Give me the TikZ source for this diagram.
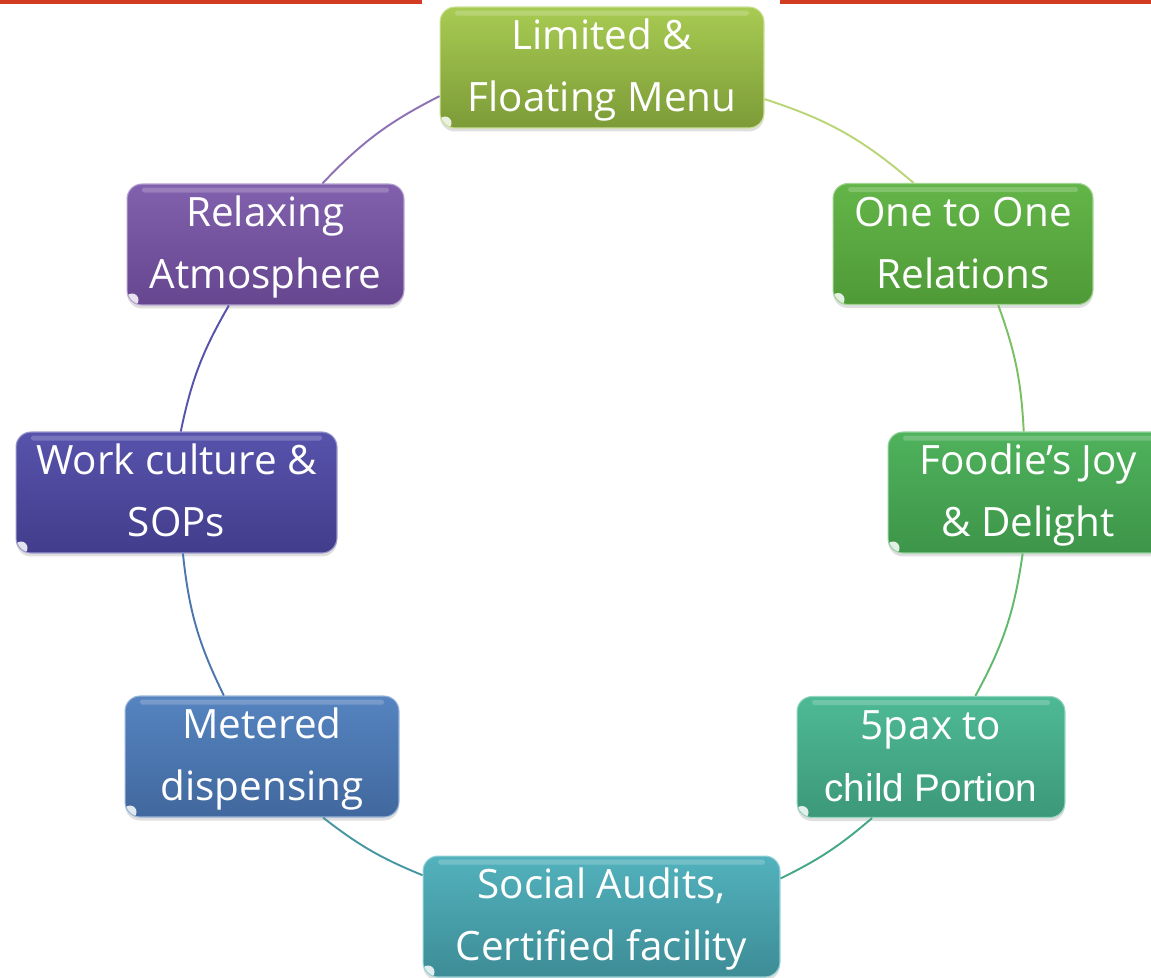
\documentclass[tikz,border=0pt]{standalone}
\usepackage{fontspec}
\setmainfont{Open Sans}
\newfontfamily\arialfont{Liberation Sans}
\usetikzlibrary{shadows}
\definecolor{limTop}{HTML}{A8CB52}
\definecolor{limBot}{HTML}{7C9B38}
\definecolor{oneTop}{HTML}{63B548}
\definecolor{oneBot}{HTML}{4F9A38}
\definecolor{foodTop}{HTML}{4FB25C}
\definecolor{foodBot}{HTML}{3D9549}
\definecolor{paxTop}{HTML}{4EB995}
\definecolor{paxBot}{HTML}{3C9879}
\definecolor{socTop}{HTML}{52B2BD}
\definecolor{socBot}{HTML}{3D8C96}
\definecolor{metTop}{HTML}{5584C0}
\definecolor{metBot}{HTML}{41689E}
\definecolor{workTop}{HTML}{5753AC}
\definecolor{workBot}{HTML}{423D8B}
\definecolor{relaxTop}{HTML}{8160AD}
\definecolor{relaxBot}{HTML}{66468F}
\definecolor{barRed}{HTML}{D23C22}
\newcommand{\hiline}{\rule{0pt}{21pt}}
\newcommand{\loline}{\rule[-6pt]{0pt}{6pt}}
\begin{document}
\begin{tikzpicture}[x=0.02cm, y=-0.02cm, font=\fontsize{23}{35.2}\selectfont,
    box/.style 2 args={rectangle, rounded corners=0.3cm, top color=#1, bottom color=#2,
      draw=#1!60!white, line width=0.6pt, text=white, align=center, inner sep=0pt,
      minimum height=2.42cm,
      drop shadow={opacity=0.25, shadow xshift=0pt, shadow yshift=-0.07cm},
      path picture={
        \fill[white, opacity=0.2, rounded corners=1pt] ([xshift=0.3cm, yshift=-0.07cm]path picture bounding box.north west)
          rectangle ([xshift=-0.3cm, yshift=-0.17cm]path picture bounding box.north east);
        \fill[white, opacity=0.85] ([xshift=0.1cm, yshift=0.1cm]path picture bounding box.south west) circle (0.13cm);}},
    link/.style={line width=1.1pt}]
    \useasboundingbox (0,0) rectangle (1151,977);
    % Top bar
    \fill[barRed] (0,0) rectangle (422,4);
    \fill[barRed] (780,0) rectangle (1151,4);
    % Nodes
    \node[box={limTop}{limBot}, minimum width=6.48cm] (lim) at (602,67.5) {\hiline Limited \&\\Floating Menu\loline};
    \node[box={oneTop}{oneBot}, minimum width=5.2cm] (one) at (963,244) {\hiline One to One\\Relations\loline};
    \node[box={foodTop}{foodBot}, minimum width=5.6cm] (food) at (1028,492.5) {\hiline Foodie’s Joy\\\& Delight\loline};
    \node[box={paxTop}{paxBot}, minimum width=5.36cm] (pax) at (931,757) {\hiline 5pax to\\{\arialfont\fontsize{22}{35.2}\selectfont child Portion}\loline};
    \node[box={socTop}{socBot}, minimum width=7.14cm] (soc) at (601.5,916.5) {\hiline Social Audits,\\Certified facility\loline};
    \node[box={metTop}{metBot}, minimum width=5.48cm] (met) at (262,756.5) {\hiline Metered\\dispensing\loline};
    \node[box={workTop}{workBot}, minimum width=6.42cm] (work) at (176.5,492.5) {\hiline Work culture \&\\SOPs\loline};
    \node[box={relaxTop}{relaxBot}, minimum width=5.54cm] (relax) at (265.5,244.5) {\hiline Relaxing\\Atmosphere\loline};
    % Arcs connecting the nodes
    \draw[link, limTop!80!white] (lim.-11.4) to[bend left=11.4] (one.129.9);
    \draw[link, oneTop!85!white] (one.-60.9) to[bend left=8.5] (food.94.6);
    \draw[link, foodTop!90!white] (food.-95.7) to[bend left=10.2] (pax.54.2);
    \draw[link, paxTop!90!black] (pax.-134) to[bend left=7.3] (soc.12);
    \draw[link, socTop!85!black] (soc.167.9) to[bend left=7.9] (met.-45.7);
    \draw[link, metTop!90!black] (met.122.1) to[bend left=10.1] (work.-84.8);
    \draw[link, workTop] (work.86.7) to[bend left=9.2] (relax.-121.8);
    \draw[link, relaxTop!90!white] (relax.47.9) to[bend left=9.8] (lim.190.5);
\end{tikzpicture}
\end{document}
